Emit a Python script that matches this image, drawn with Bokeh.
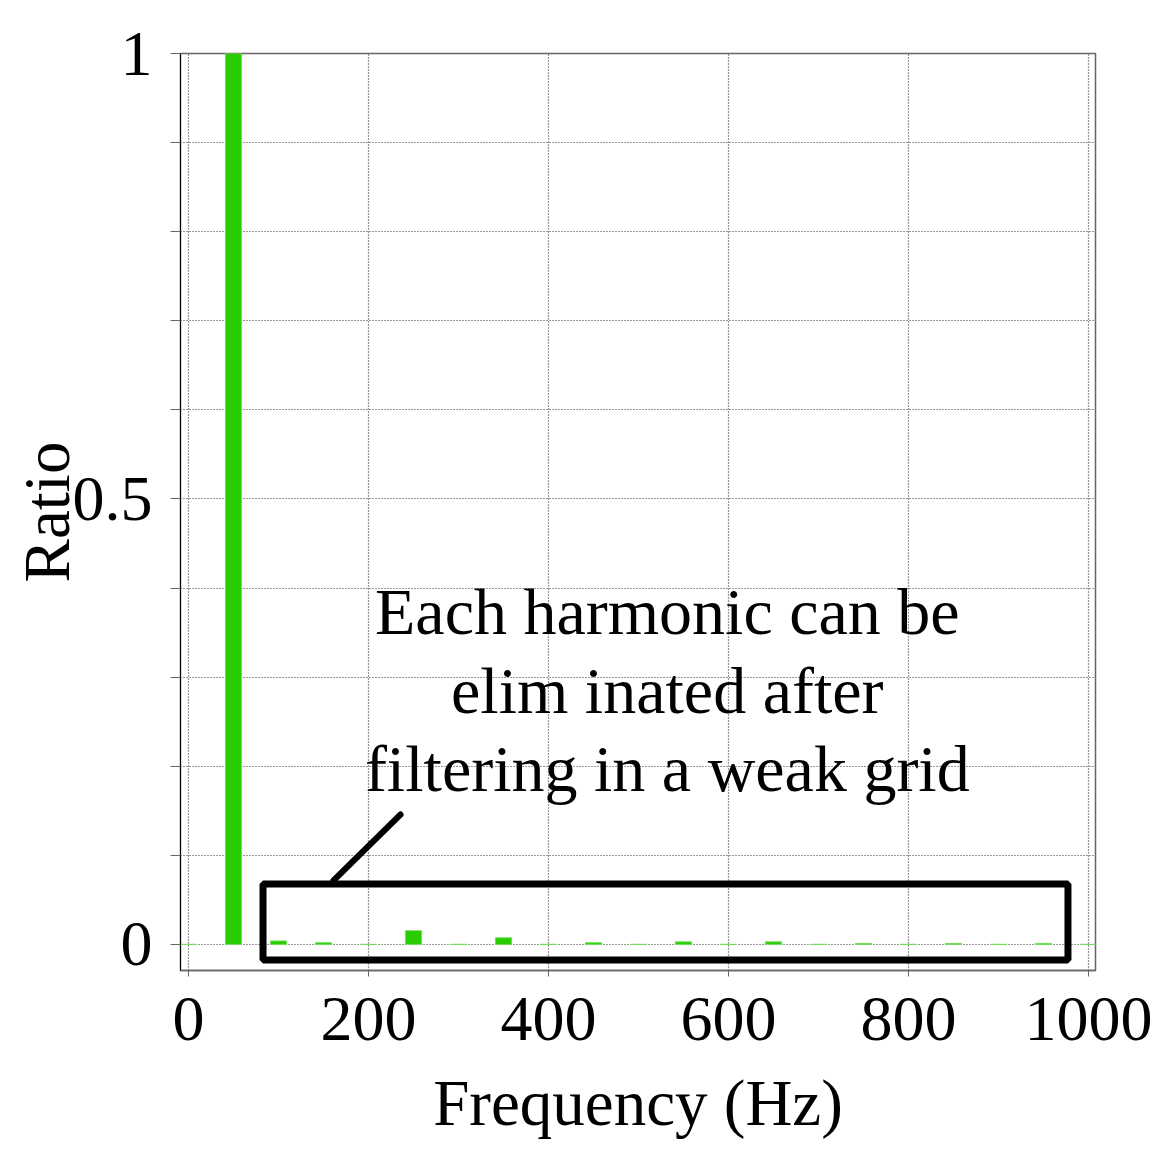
from bokeh.plotting import figure
from bokeh.models import FixedTicker, Range1d
from bokeh.core.properties import value
from bokeh.embed import file_html
from bokeh.resources import INLINE

# ---- data ----
freqs = [0, 50, 100, 150, 200, 250, 300, 350, 400, 450, 500,
         550, 600, 650, 700, 750, 800, 850, 900, 950, 1000]
ratios = [0.0002, 1.0, 0.004, 0.002, 0.0002, 0.0155, 0.0002, 0.0075, 0.0002, 0.002, 0.0002,
          0.003, 0.0002, 0.003, 0.0002, 0.0012, 0.0002, 0.0012, 0.0002, 0.0012, 0.0002]
x_ticks = [0, 200, 400, 600, 800, 1000]
y_major = [0, 0.5, 1]
y_minor = [0.1, 0.2, 0.3, 0.4, 0.6, 0.7, 0.8, 0.9]
y_labels = {0: "0", 0.5: "0.5", 1: "1"}
note_lines = ["Each harmonic can be", "elim inated after", "filtering in a weak grid"]

# annotation geometry (data coords)
note_x = 532
note_y = [0.3736, 0.2851, 0.1976]
box_l, box_r, box_b, box_t = 82.8, 977.2, -0.0174, 0.0679
ptr_x = [235.6, 161.1]
ptr_y = [0.1459, 0.0718]

FONT = "Liberation Serif"

p = figure(width=1155, height=1155, output_backend="svg", toolbar_location=None,
           x_range=Range1d(-8.9, 1007.8), y_range=Range1d(-0.0292, 1.0),
           min_border_left=180, min_border_top=53, min_border_right=60, min_border_bottom=185)

p.outline_line_color = "#666666"
p.outline_line_width = 1.5
p.background_fill_color = "white"
p.border_fill_color = "white"

# bars
p.vbar(x=freqs, top=ratios, bottom=0, width=18,
       fill_color="#28cc00", line_color="#72e05a", line_width=1)

# annotations
p.quad(left=[box_l], right=[box_r], bottom=[box_b], top=[box_t],
       fill_color=None, line_color="black", line_width=7)
p.line(x=ptr_x, y=ptr_y, line_color="black", line_width=6, line_cap="round")
p.text(x=[note_x] * 3, y=note_y, text=note_lines,
       text_font=value(FONT), text_font_size="66px", text_color="black",
       text_align="center", text_baseline="alphabetic")

# axes
xa = p.xaxis[0]
xa.ticker = FixedTicker(ticks=x_ticks)
xa.axis_label = "Frequency (Hz)"
ya = p.yaxis[0]
ya.ticker = FixedTicker(ticks=y_major, minor_ticks=y_minor)
ya.major_label_overrides = y_labels
ya.axis_label = "Ratio"

for ax in (xa, ya):
    ax.major_label_text_font = FONT
    ax.major_label_text_font_size = "64px"
    ax.major_label_text_color = "black"
    ax.axis_label_text_font = FONT
    ax.axis_label_text_font_size = "65px"
    ax.axis_label_text_font_style = "normal"
    ax.axis_label_text_color = "black"
    ax.major_tick_line_color = "#666666"
    ax.minor_tick_line_color = "#666666"
    ax.major_tick_in = 0
    ax.minor_tick_in = 0

xa.axis_line_color = "#666666"
xa.axis_line_width = 1.5
xa.major_tick_out = 6
xa.minor_tick_line_color = None
xa.major_label_standoff = 21
xa.axis_label_standoff = 24

ya.axis_line_color = "black"
ya.axis_line_width = 1
ya.major_tick_out = 10
ya.minor_tick_out = 10
ya.major_label_standoff = 18
ya.axis_label_standoff = -13

# grid
for g in (p.xgrid[0], p.ygrid[0]):
    g.grid_line_color = "#333333"
    g.grid_line_dash = "1 2"
    g.grid_line_width = 1.2
p.ygrid[0].minor_grid_line_color = "#333333"
p.ygrid[0].minor_grid_line_dash = "1 2"
p.ygrid[0].minor_grid_line_width = 1.2

open("out.html", "w").write(file_html(p, INLINE))
